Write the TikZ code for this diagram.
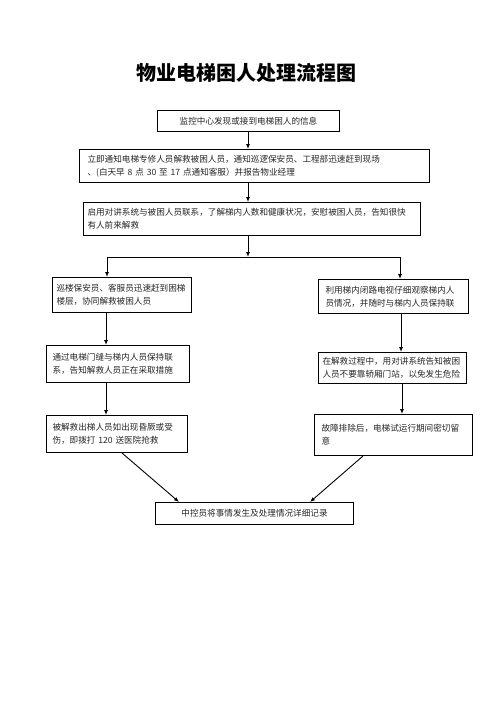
\documentclass[tikz,border=0pt]{standalone}
\usepackage{fontspec}
\usetikzlibrary{arrows.meta,calc}
\newfontfamily\cjk{Noto Sans CJK SC}
\XeTeXlinebreaklocale "zh"
\newcommand\bodyfont{\cjk\fontsize{8.6}{13}\selectfont}
\tikzset{
  box/.style={draw, line width=1pt, anchor=north west, font=\bodyfont, align=left, inner ysep=0pt, text=black!85},
  arr/.style={line width=0.9pt, -{Latex[length=5pt,width=4pt]}},
  ln/.style={line width=0.9pt}
}
\begin{document}
\begin{tikzpicture}[x=1pt,y=-1pt]
\useasboundingbox (0,0) rectangle (496,702);
\node[font={\cjk\bfseries\fontsize{20}{24}\selectfont}] (title) at (246,73) {物业电梯困人处理流程图};
\node[box, align=center, text width=182, inner xsep=0pt, minimum height=21] (b1) at (157,110) {监控中心发现或接到电梯困人的信息};
\node[box, text width=334, inner xsep=8pt, minimum height=33] (b2) at (79,149) {立即通知电梯专修人员解救被困人员，通知巡逻保安员、工程部迅速赶到现场\\、(白天早 8 点 30 至 17 点通知客服）并报告物业经理};
\node[box, text width=329, inner xsep=4pt, minimum height=33] (b3) at (83,202) {启用对讲系统与被困人员联系，了解梯内人数和健康状况，安慰被困人员，告知很快\\有人前来解救};
\node[box, text width=131, inner xsep=4pt, minimum height=35] (b4) at (52,277) {巡楼保安员、客服员迅速赶到困梯\\楼层，协同解救被困人员};
\node[box, text width=136, inner xsep=7pt, minimum height=34] (b5) at (318,279) {利用梯内闭路电视仔细观察梯内人\\员情况，并随时与梯内人员保持联};
\node[box, text width=131, inner xsep=6pt, minimum height=37] (b6) at (46,345) {通过电梯门缝与梯内人员保持联\\系，告知解救人员正在采取措施};
\node[box, text width=140, inner xsep=4pt, minimum height=31] (b7) at (318,352) {在解救过程中，用对讲系统告知被困\\人员不要靠轿厢门站，以免发生危险};
\node[box, text width=129, inner xsep=6pt, minimum height=37] (b8) at (46,415) {被解救出梯人员如出现昏厥或受\\伤，即拨打 120 送医院抢救};
\node[box, text width=144, inner xsep=7pt, minimum height=41] (b9) at (314,414) {故障排除后，电梯试运行期间密切留\\意\\[4pt]};
\node[box, align=center, text width=198, inner xsep=0pt, minimum height=22] (b10) at (155,502) {中控员将事情发生及处理情况详细记录};
% connectors
\draw[arr] (248,131) coordinate (c1) -- (c1 |- b2.north);
\draw[arr] (248,182) coordinate (c2) -- (c2 |- b3.north);
\coordinate (j) at (248,257);
\coordinate (jl) at (107,257);
\coordinate (jr) at (400,257);
\draw[arr] (248,235) coordinate (c3) -- (j);
\draw[ln] (jl) -- (jr);
\draw[arr] (jl) -- (jl |- b4.north);
\draw[arr] (jr) -- (jr |- b5.north);
\draw[arr] (106,312) coordinate (c4) -- (c4 |- b6.north);
\draw[arr] (401,313) coordinate (c5) -- (c5 |- b7.north);
\draw[arr] (106,382) coordinate (c6) -- (c6 |- b8.north);
\draw[arr] (402,383) coordinate (c7) -- (c7 |- b9.north);
\coordinate (d1) at ([xshift=76pt]b8.south west);
\coordinate (e1) at ([xshift=24pt]b10.north west);
\coordinate (d2) at ([xshift=49pt]b9.south west);
\coordinate (e2) at ([xshift=155pt]b10.north west);
\draw[arr] (d1) -- (e1);
\draw[arr] (d2) -- (e2);
\end{tikzpicture}
\end{document}
